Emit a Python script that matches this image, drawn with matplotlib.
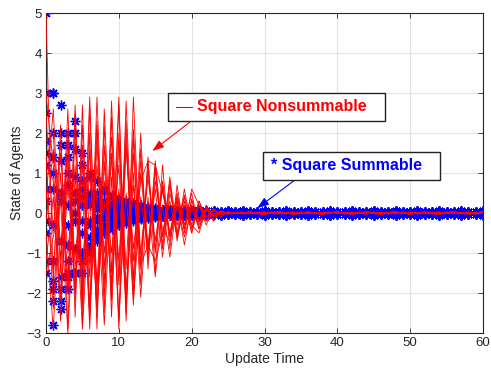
import matplotlib
matplotlib.use("Agg")
import matplotlib.pyplot as plt
from matplotlib.lines import Line2D
from matplotlib.patches import Rectangle

plt.rcParams['font.family'] = ['Liberation Sans', 'DejaVu Sans']

# ---- data ----
time_axis = list(range(0, 61))

# Square summable step sizes (blue *), t = 0..15
blue_heads = [
    [5.0, 3.0, 2.7, 1.7, 2.3, 1.5, 1.0, 0.8, 0.6, 0.45, 0.35, 0.3, 0.25, 0.2, 0.15, 0.12],
    [3.0, 3.0, 2.0, 2.0, 2.0, 1.2, 0.9, 0.5, 0.55, 0.4, 0.3, 0.25, 0.2, 0.15, 0.12, 0.1],
    [2.5, 2.0, 1.7, 1.4, 1.6, 0.8, 0.5, 0.35, 0.3, 0.25, 0.2, 0.15, 0.12, 0.1, 0.08, 0.06],
    [1.8, 1.4, 1.3, 1.0, 0.9, 0.6, 0.4, 0.3, 0.2, 0.15, 0.1, 0.08, 0.05, 0.04, 0.03, 0.02],
    [1.5, 0.6, 0.5, 0.7, 0.5, 0.4, 0.3, 0.2, 0.1, 0.1, 0.05, 0.05, 0.03, 0.02, 0.01, 0.0],
    [1.2, 1.0, 0.3, 0.2, 0.3, 0.2, -0.2, 0.1, 0.05, 0.1, 0.05, 0.0, 0.02, 0.0, 0.01, 0.0],
    [0.6, -0.3, 0.5, -0.3, 0.0, -0.2, 0.2, -0.1, -0.05, 0.0, -0.02, 0.02, 0.0, -0.01, 0.0, 0.0],
    [0.3, -1.2, -0.7, -0.8, -0.2, -0.5, -0.3, -0.2, -0.15, -0.1, -0.08, -0.05, -0.03, -0.02, -0.01, 0.0],
    [-0.2, -1.7, -1.6, -1.2, -0.9, -1.0, -0.6, -0.4, -0.3, -0.2, -0.12, -0.1, -0.06, -0.04, -0.03, -0.02],
    [-0.5, -2.2, -1.9, -1.5, -1.5, -1.0, -0.8, -0.5, -0.4, -0.3, -0.25, -0.2, -0.15, -0.12, -0.1, -0.08],
    [-1.2, -2.8, -2.2, -1.6, -1.5, -1.5, -0.9, -0.7, -0.5, -0.4, -0.3, -0.25, -0.2, -0.15, -0.12, -0.1],
    [-1.5, -1.9, -2.4, -1.9, -1.5, -1.2, -1.0, -0.6, -0.45, -0.35, -0.3, -0.2, -0.15, -0.12, -0.1, -0.08],
]
# blue tails, t = 16..60
blue_tails = [
    [0.08, 0.07, 0.06, 0.05, 0.05, 0.04, 0.04, 0.04, 0.03, 0.04,
     0.03, 0.04, 0.03, 0.03, 0.04, 0.03, 0.03, 0.04, 0.03, 0.03,
     0.04, 0.03, 0.03, 0.04, 0.03, 0.03, 0.04, 0.03, 0.03, 0.04,
     0.03, 0.03, 0.04, 0.03, 0.03, 0.04, 0.03, 0.03, 0.04, 0.03,
     0.03, 0.04, 0.03, 0.03, 0.04],
    [-0.07, -0.06, -0.05, -0.05, -0.04, -0.04, -0.04, -0.03, -0.04, -0.03,
     -0.03, -0.04, -0.03, -0.03, -0.04, -0.03, -0.03, -0.04, -0.03, -0.03,
     -0.04, -0.03, -0.03, -0.04, -0.03, -0.03, -0.04, -0.03, -0.03, -0.04,
     -0.03, -0.03, -0.04, -0.03, -0.03, -0.04, -0.03, -0.03, -0.04, -0.03,
     -0.03, -0.04, -0.03, -0.03, -0.04],
]

# Square nonsummable step sizes (red lines), t = 0..26
red_heads = [
    [5.0, -1.8, 2.2, -2.9, 2.5, -1.9, 2.9, -2.3, 1.7, -2.0, 2.7, -2.1, 1.5, -1.3, 1.1, -0.9, 0.7, -0.5, 0.4, -0.3, 0.2, -0.15, 0.1, -0.06, 0.04, -0.02, 0.01],
    [3.0, 1.2, -2.1, 2.0, -2.6, 2.7, -2.4, 2.9, -1.8, 2.4, -2.7, 2.8, -1.7, 2.0, -1.4, 1.2, -0.9, 0.7, -0.6, 0.45, -0.3, 0.2, -0.12, 0.07, -0.04, 0.02, -0.01],
    [2.5, -0.5, 1.8, -1.9, 2.7, -2.8, 2.0, -2.9, 2.6, -1.5, 2.9, -2.5, 2.9, -1.4, 1.3, -1.0, 0.8, -0.6, 0.5, -0.4, 0.3, -0.2, 0.12, -0.08, 0.05, -0.03, 0.01],
    [1.8, 2.0, -1.5, 2.6, -2.2, 2.2, -2.7, 2.3, -2.5, 2.8, -1.8, 2.0, -2.3, 1.6, -1.2, 1.1, -0.8, 0.9, -0.5, 0.6, -0.4, 0.3, -0.2, 0.1, -0.05, 0.03, -0.01],
    [1.5, -2.4, 1.0, -1.7, 1.9, -2.4, 2.6, -1.9, 2.2, -2.6, 2.0, -2.7, 1.9, -1.8, 1.4, -1.5, 1.2, -0.9, 0.7, -0.5, 0.35, -0.25, 0.15, -0.1, 0.05, -0.02, 0.0],
    [1.2, 0.8, -2.7, 1.4, -2.0, 1.7, -2.9, 1.8, -2.1, 1.5, -2.9, 1.7, -1.2, 1.3, -0.9, 1.3, -0.6, 0.8, -0.7, 0.3, -0.5, 0.2, -0.3, 0.1, -0.1, 0.03, -0.01],
    [0.6, -1.5, 1.5, -1.0, 1.2, -2.1, 1.6, -2.6, 1.3, -2.2, 1.8, -1.4, 2.1, -1.0, 0.9, -0.7, 0.6, -0.6, 0.4, -0.3, 0.5, -0.4, 0.2, -0.1, 0.05, -0.02, 0.0],
    [0.3, 2.6, -1.2, 1.8, -1.4, 1.2, -1.6, 2.2, -1.4, 1.9, -1.6, 2.3, -2.0, 1.0, -0.8, 0.6, -1.1, 0.5, -0.3, 0.4, -0.5, 0.3, -0.1, 0.05, -0.02, 0.01, 0.0],
    [-0.2, 1.6, -0.8, 0.9, -1.1, 0.8, -1.3, 1.2, -1.0, 1.4, -1.2, 1.6, -0.9, 0.8, 1.3, 1.2, 0.5, -0.2, 0.3, -0.4, 0.6, 0.2, -0.2, 0.1, -0.05, 0.02, 0.0],
    [-0.5, -2.9, 0.6, -2.0, 0.9, -1.4, 1.0, -1.8, 0.8, -1.0, 1.2, -1.9, 0.7, -1.3, -0.8, -1.2, -0.5, 0.3, -0.6, 0.2, -0.3, -0.5, 0.1, -0.2, 0.05, -0.02, 0.0],
    [-1.2, 0.4, -2.2, 0.7, -1.8, 0.5, -2.5, 0.6, -2.8, 0.9, -2.6, 0.5, -2.2, 0.4, -1.0, 0.8, -0.4, -0.7, 0.2, -0.6, 0.1, -0.3, 0.05, -0.02, 0.01, 0.0, 0.0],
    [-1.5, -0.6, 0.3, -3.0, 0.5, -2.9, 0.4, -2.4, 0.3, -1.7, 0.6, -2.3, 1.0, -2.1, 0.4, -1.6, 0.2, -1.1, 0.3, -0.8, 0.2, -0.4, 0.1, -0.2, 0.05, -0.02, 0.0],
]
# red tails, t = 27..60 (three slightly different residual patterns)
red_tails = [
    [0.02, -0.02, 0.01, 0.02, -0.01, -0.02, 0.01, 0.02, -0.01, 0.01,
     -0.02, 0.01, 0.02, -0.01, 0.01, -0.02, 0.02, 0.01, -0.01, 0.02,
     -0.02, 0.01, -0.01, 0.02, 0.01, -0.02, 0.01, 0.02, -0.01, 0.01,
     -0.02, 0.02, 0.01, -0.01],
    [-0.02, 0.01, -0.02, 0.0, 0.02, 0.01, -0.02, 0.0, 0.02, -0.01,
     0.01, -0.02, 0.0, 0.02, -0.02, 0.01, -0.01, -0.02, 0.02, 0.0,
     0.01, -0.02, 0.02, 0.0, -0.02, 0.01, -0.02, 0.0, 0.02, -0.01,
     0.01, -0.01, -0.02, 0.02],
    [0.0, 0.03, -0.01, -0.03, 0.01, 0.03, 0.0, -0.03, 0.0, 0.03,
     -0.01, -0.03, 0.01, 0.03, 0.0, -0.03, 0.0, 0.03, -0.01, -0.03,
     0.01, 0.03, 0.0, -0.03, 0.0, 0.03, -0.01, -0.03, 0.01, 0.03,
     0.0, -0.03, 0.0, 0.03],
]

x_ticks = [0, 10, 20, 30, 40, 50, 60]
y_ticks = [-3, -2, -1, 0, 1, 2, 3, 4, 5]
x_label = "Update Time"
y_label = "State of Agents"
red_label = "Square Nonsummable"
blue_label = "* Square Summable"

# ---- figure ----
W, H = 491, 373
fig = plt.figure(figsize=(W / 100, H / 100), dpi=100)
ax = fig.add_axes([46 / W, 1 - 333 / H, (483 - 46) / W, (333 - 13) / H])

for i, head in enumerate(blue_heads):
    ys = head + blue_tails[i % len(blue_tails)]
    ax.plot(time_axis[:len(ys)], ys, linestyle='none', marker=(8, 2, 0),
            markersize=7, markeredgewidth=1.0, color='#0000ff', zorder=2)
for i, head in enumerate(red_heads):
    ys = head + red_tails[i % len(red_tails)]
    ax.plot(time_axis[:len(ys)], ys, '-', color='#ff0000', lw=0.6, zorder=3)

ax.set_xlim(0, 60)
ax.set_ylim(-3, 5)
ax.set_xticks(x_ticks)
ax.set_yticks(y_ticks)
ax.grid(True, color='#e3e3e3', lw=0.8, zorder=0)
ax.set_axisbelow(True)
ax.tick_params(direction='in', top=True, right=True, length=3.5, width=0.6,
               labelsize=9.5, colors='#262626', pad=3)
for s in ax.spines.values():
    s.set_color('#262626')
    s.set_linewidth(0.8)
ax.set_xlabel(x_label, fontsize=10, color='#262626', labelpad=2)
ax.set_ylabel(y_label, fontsize=10, color='#262626', labelpad=2)

# ---- annotation boxes (figure pixel coordinates) ----
def box(x0, y0, x1, y1):
    fig.patches.append(Rectangle((x0 / W, 1 - y1 / H), (x1 - x0) / W, (y1 - y0) / H,
                                 transform=fig.transFigure, facecolor='white',
                                 edgecolor='#222222', lw=1.0, zorder=10))

box(168, 93, 385, 121)
fig.lines.append(Line2D([176 / W, 192 / W], [1 - 107 / H, 1 - 107 / H],
                        transform=fig.transFigure, color='#ff0000', lw=0.8, zorder=11))
fig.text(197 / W, 1 - 107 / H, red_label, color='#ff0000', fontsize=11.5,
         fontweight='bold', va='center', ha='left', zorder=11)

box(263, 152, 440, 180)
fig.text(271 / W, 1 - 165.5 / H, blue_label, color='#0000ff', fontsize=11.5,
         fontweight='bold', va='center', ha='left', zorder=11)

ax.annotate('', xy=(14.6, 1.55), xycoords='data',
            xytext=(190, H - 122), textcoords='figure pixels',
            arrowprops=dict(arrowstyle='-|>,head_length=0.7,head_width=0.25',
                            color='#ff0000', lw=0.8, shrinkA=0, shrinkB=0),
            annotation_clip=False, zorder=12)
ax.annotate('', xy=(29.0, 0.12), xycoords='data',
            xytext=(295, H - 180), textcoords='figure pixels',
            arrowprops=dict(arrowstyle='-|>,head_length=0.7,head_width=0.25',
                            color='#0000ff', lw=0.8, shrinkA=0, shrinkB=0),
            annotation_clip=False, zorder=12)

fig.savefig('out.png', dpi=100)
